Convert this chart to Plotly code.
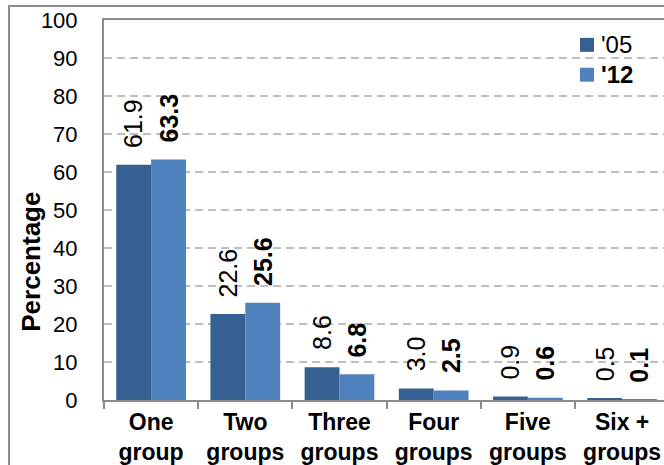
import plotly.graph_objects as go

# Number of groups a respondent belongs to, share of respondents (%)
categories = ["One<br>group", "Two<br>groups", "Three<br>groups",
              "Four<br>groups", "Five<br>groups", "Six +<br>groups"]
values_05 = [61.9, 22.6, 8.6, 3.0, 0.9, 0.5]
values_12 = [63.3, 25.6, 6.8, 2.5, 0.6, 0.1]
labels_05 = ["61.9", "22.6", "8.6", "3.0", "0.9", "0.5"]
labels_12 = ["63.3", "25.6", "6.8", "2.5", "0.6", "0.1"]
series_names = ["'05", "<b>'12</b>"]
y_ticks = list(range(0, 101, 10))

W, H = 664, 465
M_L, M_R, M_T, M_B = 104, 0, 20, 63
X_RANGE = [-0.5, 5.445]
BARGAP = 0.26

DARK = "#376092"
LIGHT = "#4F81BD"
AXIS_GREY = "#8C8C8C"
GRID_GREY = "#BFBFBF"
FONT = "Liberation Sans, Arial, sans-serif"

plot_w = W - M_L - M_R
plot_h = H - M_T - M_B


def px_x(px):
    """Convert a pixel column of the figure to paper x."""
    return (px - M_L) / plot_w


def px_y(py):
    """Convert a pixel row of the figure to paper y."""
    return (H - M_B - py) / plot_h


fig = go.Figure()
fig.add_trace(go.Bar(name=series_names[0], x=categories, y=values_05,
                     marker=dict(color=DARK, line=dict(width=0))))
fig.add_trace(go.Bar(name=series_names[1], x=categories, y=values_12,
                     marker=dict(color=LIGHT, line=dict(width=0))))

# pixel geometry of one category slot, used to centre labels over each bar
cat_px = plot_w / (X_RANGE[1] - X_RANGE[0])
bar_px = cat_px * (1 - BARGAP) / 2

annotations = []
for vals, texts, shift, bold in ((values_05, labels_05, -bar_px / 2, False),
                                 (values_12, labels_12, bar_px / 2, True)):
    for cat, v, t in zip(categories, vals, texts):
        annotations.append(dict(x=cat, y=v, xref="x", yref="y",
                                text=f"<b>{t}</b>" if bold else t,
                                textangle=-90, showarrow=False,
                                xanchor="center", yanchor="bottom",
                                xshift=shift, yshift=15,
                                font=dict(family=FONT, size=25, color="black")))

# y-axis title
annotations.append(dict(x=px_x(31), y=px_y(263), xref="paper", yref="paper",
                        text="<b>Percentage</b>", textangle=-90, showarrow=False,
                        xanchor="center", yanchor="middle",
                        font=dict(family=FONT, size=26, color="black")))

# legend: coloured squares with series names
shapes = [dict(type="rect", xref="paper", yref="paper",
               x0=px_x(9), x1=1.2, y0=-0.5, y1=px_y(6),
               line=dict(color=AXIS_GREY, width=2), fillcolor="rgba(0,0,0,0)",
               layer="below")]
for i, (name, col) in enumerate(zip(series_names, [DARK, LIGHT])):
    cy = 45 + 30 * i
    shapes.append(dict(type="rect", xref="paper", yref="paper",
                       x0=px_x(580), x1=px_x(594), y0=px_y(cy + 7), y1=px_y(cy - 7),
                       line=dict(width=0), fillcolor=col))
    annotations.append(dict(x=px_x(599), y=px_y(cy), xref="paper", yref="paper",
                            text=name, showarrow=False, xanchor="left", yanchor="middle",
                            font=dict(family=FONT, size=24, color="black")))

fig.update_layout(
    width=W, height=H,
    margin=dict(l=M_L, r=M_R, t=M_T, b=M_B, pad=0),
    paper_bgcolor="white", plot_bgcolor="white",
    barmode="group", bargap=BARGAP, bargroupgap=0,
    font=dict(family=FONT, color="black"),
    showlegend=False,
    annotations=annotations,
    shapes=shapes,
)

fig.update_xaxes(
    range=X_RANGE, showline=True, linecolor=AXIS_GREY, linewidth=2, mirror=True,
    ticks="outside", tickson="boundaries", ticklen=7, tickcolor=AXIS_GREY, tickwidth=2,
    tickfont=dict(family=FONT, size=23, color="black", weight="bold"),
    showgrid=False,
)
fig.update_yaxes(
    range=[0, 100], tickvals=y_ticks, showline=True, linecolor=AXIS_GREY, linewidth=2,
    ticks="", ticklabelstandoff=20,
    tickfont=dict(family=FONT, size=22, color="black"),
    showgrid=True, gridcolor=GRID_GREY, gridwidth=1.5, griddash="8px,5px",
    zeroline=False,
)

fig.write_html("out.html")
